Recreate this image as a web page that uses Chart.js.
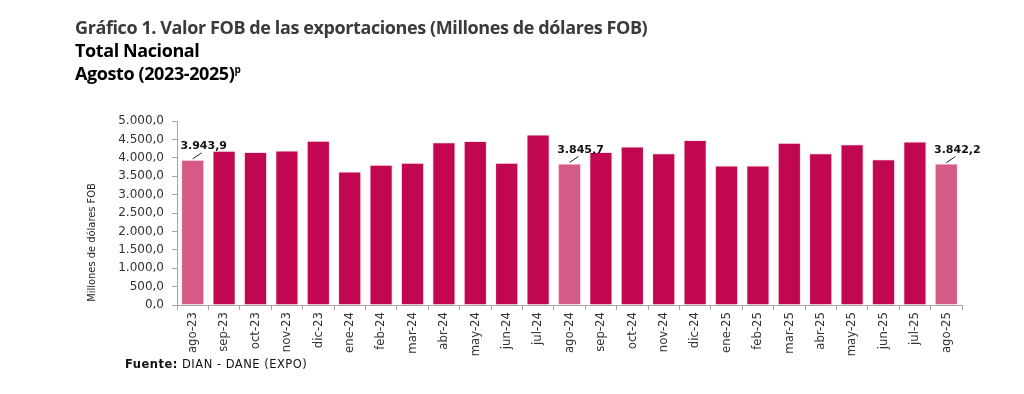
<!DOCTYPE html>
<html>
<head>
<meta charset="utf-8">
<script src="https://cdn.jsdelivr.net/npm/chart.js@4.4.1/dist/chart.umd.min.js"></script>
<style>
  html, body { margin: 0; padding: 0; background: #fff; }
  #wrap { position: relative; width: 1024px; height: 394px; overflow: hidden; }
  #chart { position: absolute; left: 0; top: 0; }
  .ttl { position: absolute; left: 75px; font-family: "Open Sans", "Noto Sans", sans-serif; font-weight: 700; font-size: 18px; white-space: nowrap; letter-spacing: -0.4px; line-height: 22px; }
  #t1 { top: 16px; color: #3a3a3a; }
  #t2 { top: 39px; color: #000; }
  #t3 { top: 62px; color: #000; }
  #t3 sup { font-size: 10px; line-height: 0; vertical-align: 7px; }
  #src { position: absolute; left: 125px; top: 357px; font-family: "DejaVu Sans", sans-serif; font-size: 11.5px; letter-spacing: 0.5px; color: #111; white-space: nowrap; }
  #src b { font-weight: 700; }
</style>
</head>
<body>
<div id="wrap">
  <canvas id="chart" width="1024" height="394"></canvas>
  <div class="ttl" id="t1">Gráfico 1. Valor FOB de las exportaciones (Millones de dólares FOB)</div>
  <div class="ttl" id="t2">Total Nacional</div>
  <div class="ttl" id="t3">Agosto (2023-2025)<sup>p</sup></div>
  <div id="src"><b>Fuente:</b> DIAN - DANE (EXPO)</div>
</div>
<script>
const months = ['ago-23', 'sep-23', 'oct-23', 'nov-23', 'dic-23', 'ene-24', 'feb-24', 'mar-24', 'abr-24',
  'may-24', 'jun-24', 'jul-24', 'ago-24', 'sep-24', 'oct-24', 'nov-24', 'dic-24', 'ene-25', 'feb-25',
  'mar-25', 'abr-25', 'may-25', 'jun-25', 'jul-25', 'ago-25'];
const fobValues = [3943.9, 4190, 4160, 4195, 4460, 3630, 3810, 3865, 4420,
  4455, 3865, 4635, 3845.7, 4160, 4305, 4125, 4485, 3790, 3790,
  4410, 4125, 4365, 3960, 4440, 3842.2];
const highlighted = ['ago-23', 'ago-24', 'ago-25'];
const yTicks = [0, 500, 1000, 1500, 2000, 2500, 3000, 3500, 4000, 4500, 5000];
const yTitle = 'Millones de dólares FOB';

const mainColor = '#C0074F';
const lightColor = '#D65A88';

// 1234.5 -> "1.234,5"
function fmt(v) {
  let parts = v.toFixed(1).split('.');
  let int = parts[0].replace(/\B(?=(\d{3})+(?!\d))/g, '.');
  return int + ',' + parts[1];
}

const barColors = months.map(m => highlighted.includes(m) ? lightColor : mainColor);

const calloutPlugin = {
  id: 'callouts',
  afterDatasetsDraw(chart) {
    const ctx = chart.ctx;
    const meta = chart.getDatasetMeta(0);
    ctx.save();
    months.forEach((m, i) => {
      if (!highlighted.includes(m)) return;
      const bar = meta.data[i];
      const x = bar.x, top = bar.y;
      ctx.strokeStyle = '#222';
      ctx.lineWidth = 1;
      ctx.beginPath();
      ctx.moveTo(x, top - 1);
      ctx.lineTo(x + 9, top - 7);
      ctx.stroke();
      ctx.fillStyle = '#111';
      ctx.font = 'bold 11px "DejaVu Sans", sans-serif';
      ctx.textAlign = 'center';
      ctx.textBaseline = 'bottom';
      ctx.fillText(fmt(fobValues[i]), x + 11, top - 8);
    });
    // axis title, sits a bit below the middle like the original
    const area = chart.chartArea;
    ctx.translate(92, area.top + (area.bottom - area.top) * 0.66);
    ctx.rotate(-Math.PI / 2);
    ctx.font = '11px "DejaVu Sans Condensed", sans-serif';
    ctx.fillStyle = '#222';
    ctx.textAlign = 'center';
    ctx.textBaseline = 'middle';
    ctx.fillText(yTitle, 0, 0);
    ctx.restore();
  }
};

new Chart('chart', {
  type: 'bar',
  data: {
    labels: months,
    datasets: [{
      data: fobValues,
      backgroundColor: barColors,
      borderColor: 'rgba(255, 210, 225, 0.6)',
      borderWidth: 1,
      barPercentage: 0.74,
      categoryPercentage: 1.0
    }]
  },
  options: {
    responsive: false,
    animation: false,
    layout: { padding: { left: 80, right: 62, top: 121, bottom: 0 } },
    plugins: {
      legend: { display: false },
      tooltip: { enabled: false }
    },
    scales: {
      x: {
        grid: { display: true, drawOnChartArea: false, offset: true, tickLength: 5, color: '#a6a6a6' },
        border: { color: '#a6a6a6' },
        ticks: {
          minRotation: 90, maxRotation: 90, autoSkip: false, padding: 2,
          color: '#333',
          font: { family: '"DejaVu Sans Condensed", sans-serif', size: 13 }
        },
        afterFit(scale) { scale.height = 89; }
      },
      y: {
        min: 0, max: 5000,
        afterBuildTicks(scale) { scale.ticks = yTicks.map(v => ({ value: v })); },
        grid: { display: true, drawOnChartArea: false, tickLength: 5, color: '#a6a6a6' },
        border: { color: '#a6a6a6' },
        ticks: {
          color: '#333', padding: 8,
          font: { family: '"DejaVu Sans", sans-serif', size: 12 },
          callback: v => fmt(v)
        },
        afterFit(scale) { scale.width = 97; }
      }
    }
  },
  plugins: [calloutPlugin]
});
</script>
</body>
</html>
